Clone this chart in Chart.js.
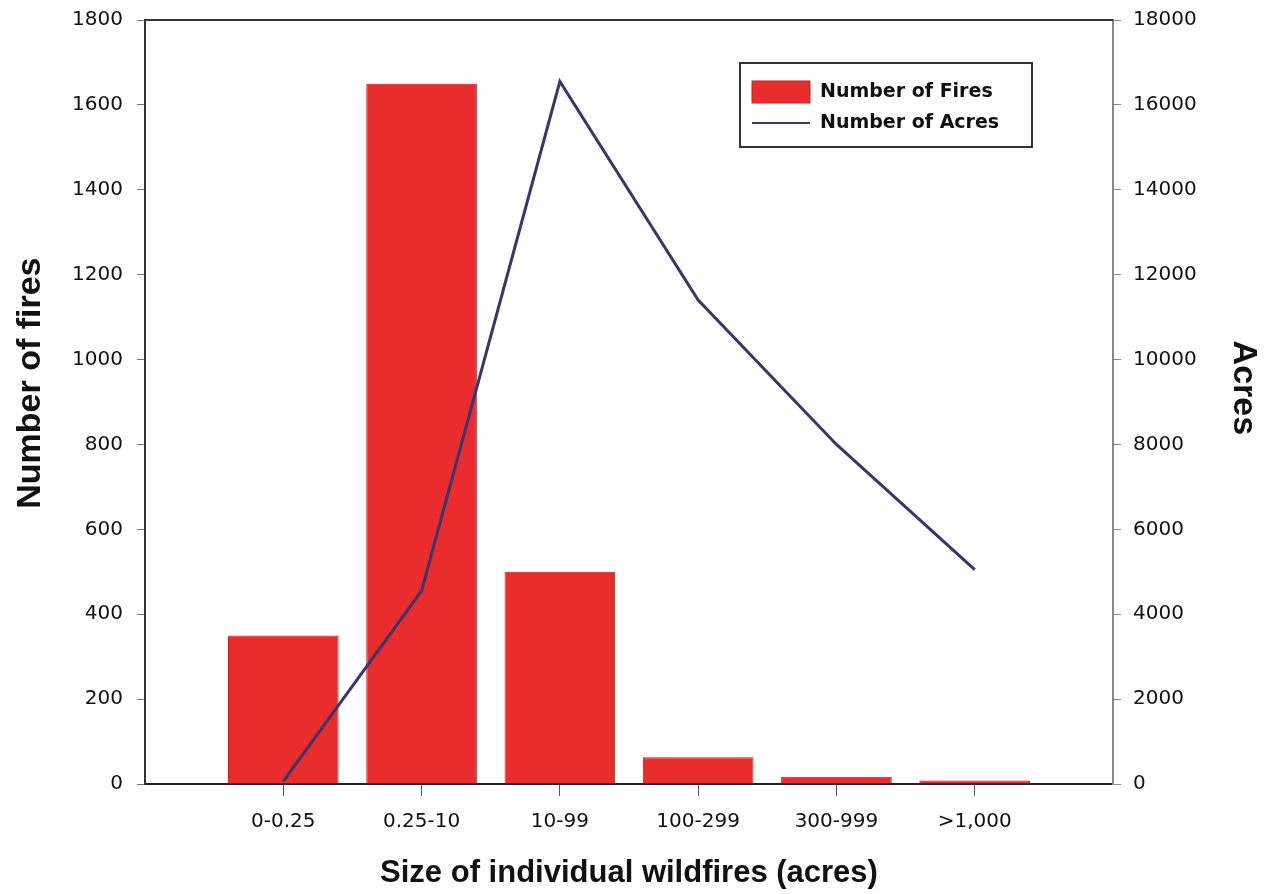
<!DOCTYPE html>
<html>
<head>
<meta charset="utf-8">
<script src="https://cdn.jsdelivr.net/npm/chart.js@4.4.1/dist/chart.umd.min.js"></script>
<style>
  body { margin: 0; background: #fff; }
  #wrap { width: 1274px; height: 894px; }
</style>
</head>
<body>
<div id="wrap"><canvas id="fireChart"></canvas></div>
<script>
// Data
const sizeClasses = ["0-0.25", "0.25-10", "10-99", "100-299", "300-999", ">1,000"];
const numberOfFires = [350, 1650, 500, 63, 17, 8];
const numberOfAcres = [60, 4550, 16550, 11400, 8000, 5050];
const fireTicks = [0, 200, 400, 600, 800, 1000, 1200, 1400, 1600, 1800];
const acreTicks = [0, 2000, 4000, 6000, 8000, 10000, 12000, 14000, 16000, 18000];

// empty slot on each side, like the original axis
const labels = ["", ...sizeClasses, ""];
const pad = (arr) => [null, ...arr, null];

const FONT = "'Liberation Sans', Arial, sans-serif";
const TICK_FONT = "'DejaVu Sans', sans-serif";
const BAR_RED = "#e92c2c";
const LINE_BLUE = "#37366f";

// legend box drawn inside the plot, top right
const boxLegend = {
  id: "boxLegend",
  afterDraw(chart) {
    const c = chart.ctx;
    const a = chart.chartArea;
    const x = a.left + 595, y = a.top + 43, w = 292, h = 84;
    c.save();
    c.fillStyle = "#fff";
    c.fillRect(x, y, w, h);
    c.strokeStyle = "#333";
    c.lineWidth = 2;
    c.strokeRect(x, y, w, h);
    const ds = chart.data.datasets;
    // bar swatch
    c.fillStyle = ds[0].backgroundColor;
    c.fillRect(x + 12, y + 18, 58, 22);
    c.strokeStyle = ds[0].borderColor;
    c.lineWidth = 1;
    c.strokeRect(x + 12, y + 18, 58, 22);
    // line swatch
    c.strokeStyle = ds[1].borderColor;
    c.lineWidth = 2;
    c.beginPath();
    c.moveTo(x + 12, y + 60);
    c.lineTo(x + 70, y + 60);
    c.stroke();
    c.fillStyle = "#111";
    c.font = "bold 19px " + TICK_FONT;
    c.textBaseline = "middle";
    c.fillText(ds[0].label, x + 80, y + 29);
    c.fillText(ds[1].label, x + 80, y + 60);
    c.restore();
  }
};

// top frame line
const topFrame = {
  id: "topFrame",
  afterDatasetsDraw(chart) {
    const c = chart.ctx, a = chart.chartArea;
    c.save();
    c.strokeStyle = "#333";
    c.lineWidth = 2;
    c.beginPath();
    c.moveTo(a.left, a.top);
    c.lineTo(a.right, a.top);
    c.stroke();
    c.restore();
  }
};

const plain = (v) => String(v);
const noPad = (scale) => {
  scale.paddingTop = 0;
  scale.paddingBottom = 0;
  scale.paddingLeft = 0;
  scale.paddingRight = 0;
};

new Chart(document.getElementById("fireChart"), {
  type: "bar",
  data: {
    labels,
    datasets: [
      {
        type: "bar",
        label: "Number of Fires",
        data: pad(numberOfFires),
        backgroundColor: BAR_RED,
        borderColor: "#b92222",
        borderWidth: 1,
        barPercentage: 0.8,
        categoryPercentage: 1,
        yAxisID: "y",
        order: 2
      },
      {
        type: "line",
        label: "Number of Acres",
        data: pad(numberOfAcres),
        borderColor: LINE_BLUE,
        borderWidth: 3,
        pointRadius: 0,
        tension: 0,
        fill: false,
        yAxisID: "y1",
        order: 1
      }
    ]
  },
  options: {
    responsive: true,
    maintainAspectRatio: false,
    animation: false,
    layout: { padding: { top: 20, left: 0, right: 0, bottom: 0 } },
    plugins: {
      legend: { display: false },
      tooltip: { enabled: false }
    },
    scales: {
      x: {
        offset: false,
        grid: {
          offset: false, drawOnChartArea: false, drawTicks: true, tickLength: 12, lineWidth: 1,
          color: (ctx) => (ctx.index === 0 || ctx.index === labels.length - 1) ? "rgba(0,0,0,0)" : "#555"
        },
        border: { display: true, color: "#222", width: 2 },
        ticks: { color: "#111", font: { family: TICK_FONT, size: 20 }, padding: 14, maxRotation: 0, autoSkip: false },
        title: { display: true, text: "Size of individual wildfires (acres)", color: "#111",
                 font: { family: FONT, size: 31, weight: "bold" }, padding: { top: 0, bottom: 2 } },
        afterFit(scale) { scale.height = 110; noPad(scale); }
      },
      y: {
        position: "left",
        min: 0,
        max: 1800,
        afterBuildTicks(scale) { scale.ticks = fireTicks.map(v => ({ value: v })); },
        grid: { drawOnChartArea: false, drawTicks: true, tickLength: 8, color: "#777" },
        border: { display: true, color: "#333", width: 2 },
        ticks: { color: "#111", font: { family: TICK_FONT, size: 20 }, padding: 14, callback: plain },
        title: { display: true, text: "    Number of fires", color: "#111",
                 font: { family: FONT, size: 34, weight: "bold" }, padding: { top: 10, bottom: 0 } },
        afterFit(scale) { scale.width = 145; noPad(scale); }
      },
      y1: {
        position: "right",
        min: 0,
        max: 18000,
        afterBuildTicks(scale) { scale.ticks = acreTicks.map(v => ({ value: v })); },
        grid: { drawOnChartArea: false, drawTicks: true, tickLength: 8, color: "#888" },
        border: { display: true, color: "#888", width: 2 },
        ticks: { color: "#111", font: { family: TICK_FONT, size: 20 }, padding: 12, callback: plain },
        title: { display: true, text: "Acres   ", color: "#111",
                 font: { family: FONT, size: 34, weight: "bold" }, padding: { top: 10, bottom: 0 } },
        afterFit(scale) { scale.width = 161; noPad(scale); }
      }
    }
  },
  plugins: [topFrame, boxLegend]
});
</script>
</body>
</html>
